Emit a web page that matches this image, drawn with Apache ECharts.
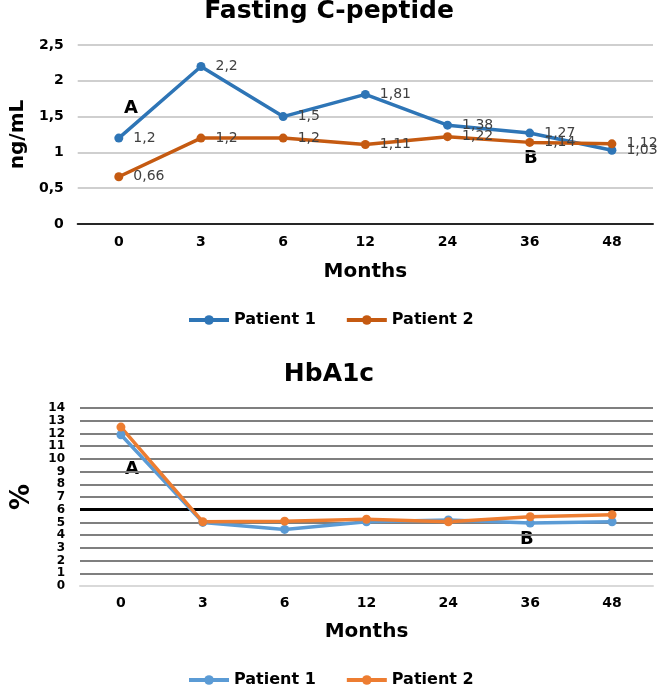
<!DOCTYPE html>
<html>
<head>
<meta charset="utf-8">
<script src="https://cdn.jsdelivr.net/npm/echarts@6/dist/echarts.min.js"></script>
<style>
html,body{margin:0;padding:0;background:#fff;}
#c{width:661px;height:686px;}
</style>
</head>
<body>
<div id="c"></div>
<script>
// ---- data ----
const months = ['0', '3', '6', '12', '24', '36', '48'];
const cpeptidePatient1 = [1.2, 2.2, 1.5, 1.81, 1.38, 1.27, 1.03];
const cpeptidePatient2 = [0.66, 1.2, 1.2, 1.11, 1.22, 1.14, 1.12];
const hba1cPatient1 = [11.9, 5.0, 4.45, 5.05, 5.2, 4.95, 5.05];
const hba1cPatient2 = [12.5, 5.05, 5.1, 5.25, 5.05, 5.45, 5.6];
const hba1cTarget = 6;
const seriesNames = ['Patient 1', 'Patient 2'];

const F = '"DejaVu Sans", sans-serif';
const comma = v => String(v).replace('.', ',');

const chart = echarts.init(document.getElementById('c'), null, {renderer: 'canvas'});

const topColors = ['#2E75B6', '#C55A11'];
const botColors = ['#5B9BD5', '#ED7D31'];

function cpSeries(name, data, color) {
  return {
    name: name, type: 'line', xAxisIndex: 0, yAxisIndex: 0, data: data,
    symbol: 'circle', symbolSize: 9,
    lineStyle: {color: color, width: 3.5},
    itemStyle: {color: color},
    label: {
      show: true, position: 'right', distance: 10,
      fontFamily: F, fontSize: 14, color: '#404040',
      formatter: p => comma(p.value)
    },
    labelLayout: {hideOverlap: false},
    z: 3
  };
}
function hbSeries(name, data, color, withMark) {
  const s = {
    name: name, type: 'line', xAxisIndex: 1, yAxisIndex: 1, data: data,
    symbol: 'circle', symbolSize: 9,
    lineStyle: {color: color, width: 3.5},
    itemStyle: {color: color},
    z: 3
  };
  if (withMark) {
    s.markLine = {
      silent: true, symbol: 'none', label: {show: false},
      lineStyle: {color: '#000', width: 3, type: 'solid'},
      data: [{yAxis: hba1cTarget}], z: 2
    };
  }
  return s;
}

const option = {
  animation: false,
  backgroundColor: '#fff',
  title: [
    {text: 'Fasting C-peptide', left: 324, textAlign: 'center', top: -6,
     textStyle: {fontFamily: F, fontSize: 25, fontWeight: 'bold', color: '#000'}},
    {text: 'HbA1c', left: 324, textAlign: 'center', top: 357,
     textStyle: {fontFamily: F, fontSize: 25, fontWeight: 'bold', color: '#000'}}
  ],
  legend: [
    {left: 182, top: 307, itemWidth: 40, itemHeight: 12, itemGap: 29,
     textStyle: {fontFamily: F, fontSize: 16, fontWeight: 'bold', color: '#000'},
     data: seriesNames.map((n, i) => ({name: n, itemStyle: {color: topColors[i]}, lineStyle: {color: topColors[i], width: 4}}))},
    {left: 182, top: 667, itemWidth: 40, itemHeight: 12, itemGap: 29,
     textStyle: {fontFamily: F, fontSize: 16, fontWeight: 'bold', color: '#000'},
     data: seriesNames.map((n, i) => ({name: n, itemStyle: {color: botColors[i]}, lineStyle: {color: botColors[i], width: 4}}))}
  ],
  grid: [
    {left: 73, right: 8, top: 45, bottom: 462},
    {left: 80, right: 8, top: 408, bottom: 100}
  ],
  xAxis: [
    {type: 'category', gridIndex: 0, data: months, boundaryGap: true,
     axisLine: {show: true, lineStyle: {color: '#262626', width: 2}},
     axisTick: {show: false},
     axisLabel: {fontFamily: F, fontSize: 14, fontWeight: 'bold', color: '#000', margin: 11},
     name: 'Months', nameLocation: 'middle', nameGap: 38,
     nameTextStyle: {fontFamily: F, fontSize: 20, fontWeight: 'bold', color: '#000'}},
    {type: 'category', gridIndex: 1, data: months, boundaryGap: true,
     axisLine: {show: true, lineStyle: {color: '#D9D9D9', width: 2}},
     axisTick: {show: false},
     axisLabel: {fontFamily: F, fontSize: 14, fontWeight: 'bold', color: '#000', margin: 10},
     name: 'Months', nameLocation: 'middle', nameGap: 36,
     nameTextStyle: {fontFamily: F, fontSize: 20, fontWeight: 'bold', color: '#000'}}
  ],
  yAxis: [
    {type: 'value', gridIndex: 0, min: 0, max: 2.5, interval: 0.5,
     axisLine: {show: false}, axisTick: {show: false},
     axisLabel: {fontFamily: F, fontSize: 14, fontWeight: 'bold', color: '#000', margin: 14, formatter: v => comma(v)},
     splitLine: {lineStyle: {color: '#BFBFBF', width: 1.5}},
     name: 'ng/mL', nameLocation: 'middle', nameGap: 45, nameRotate: 90,
     nameTextStyle: {fontFamily: F, fontSize: 20, fontWeight: 'bold', color: '#000'}},
    {type: 'value', gridIndex: 1, min: 0, max: 14, interval: 1,
     axisLine: {show: false}, axisTick: {show: false},
     axisLabel: {fontFamily: F, fontSize: 12, fontWeight: 'bold', color: '#000', margin: 15,
                 lineHeight: 10, showMinLabel: true, showMaxLabel: true, hideOverlap: false},
     splitLine: {lineStyle: {color: '#7F7F7F', width: 2}},
     name: '%', nameLocation: 'middle', nameGap: 45, nameRotate: 90,
     nameTextStyle: {fontFamily: F, fontSize: 26, fontWeight: 'bold', color: '#000'}}
  ],
  series: [
    cpSeries(seriesNames[0], cpeptidePatient1, topColors[0]),
    cpSeries(seriesNames[1], cpeptidePatient2, topColors[1]),
    hbSeries(seriesNames[0], hba1cPatient1, botColors[0], true),
    hbSeries(seriesNames[1], hba1cPatient2, botColors[1], false)
  ],
  graphic: [
    {type: 'text', left: 124, top: 99, style: {text: 'A', font: 'bold 18px "DejaVu Sans"', fill: '#000'}},
    {type: 'text', left: 524, top: 149, style: {text: 'B', font: 'bold 18px "DejaVu Sans"', fill: '#000'}},
    {type: 'text', left: 125, top: 460, style: {text: 'A', font: 'bold 18px "DejaVu Sans"', fill: '#000'}},
    {type: 'text', left: 520, top: 530, style: {text: 'B', font: 'bold 18px "DejaVu Sans"', fill: '#000'}}
  ]
};
chart.setOption(option);
</script>
</body>
</html>
